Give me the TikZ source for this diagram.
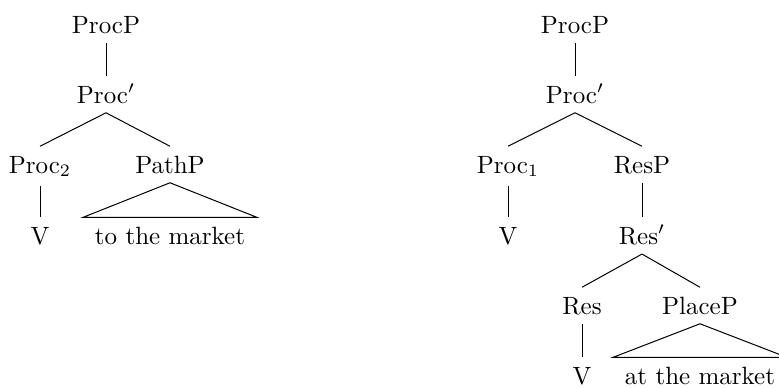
\documentclass[tikz,border=0pt]{standalone}
\usepackage{amsmath, amssymb}
\usepackage{tikz}
\tikzset{font=\normalsize}
\tikzset{lbl/.style={anchor=base, inner sep=3.6pt, text height=1.6ex}}
% leaves under a triangle get a bit more room on the sides
\tikzset{leaf/.style={lbl, inner xsep=4.5pt}}

\begin{document}
\begin{tikzpicture}[x=0.4pt, y=-0.4pt]
  \useasboundingbox (0,0) rectangle (779,387);
  % goal path reading
  \node[lbl] (lprocp) at (106,33) {ProcP};
  \node[lbl] (lprocbar) at (106,103) {Proc$'$};
  \node[lbl] (lproc) at (40,173) {Proc$_2$};
  \node[lbl] (lpathp) at (170,173) {PathP};
  \node[lbl] (lv) at (40,244) {V};
  \node[leaf] (lpath) at (170,244) {to the market};
  \foreach \a/\b in {lprocp/lprocbar, lprocbar/lproc, lprocbar/lpathp, lproc/lv}
    \draw (\a.south) -- (\b.north);
  \draw (lpathp.south) -- (lpath.north west) -- (lpath.north east) -- cycle;

  % resultative reading
  \node[lbl] (rprocp) at (575,33) {ProcP};
  \node[lbl] (rprocbar) at (575,103) {Proc$'$};
  \node[lbl] (rproc) at (508,173) {Proc$_1$};
  \node[lbl] (rresp) at (642,173) {ResP};
  \node[lbl] (rv) at (508,244) {V};
  \node[lbl] (rresbar) at (642,244) {Res$'$};
  \node[lbl] (rres) at (582,314) {Res};
  \node[lbl] (rplacep) at (700,314) {PlaceP};
  \node[lbl] (rresv) at (582,384) {V};
  \node[leaf] (rplace) at (700,384) {at the market};
  \foreach \a/\b in {rprocp/rprocbar, rprocbar/rproc, rprocbar/rresp, rproc/rv,
                     rresp/rresbar, rresbar/rres, rresbar/rplacep, rres/rresv}
    \draw (\a.south) -- (\b.north);
  \draw (rplacep.south) -- (rplace.north west) -- (rplace.north east) -- cycle;
\end{tikzpicture}
\end{document}
